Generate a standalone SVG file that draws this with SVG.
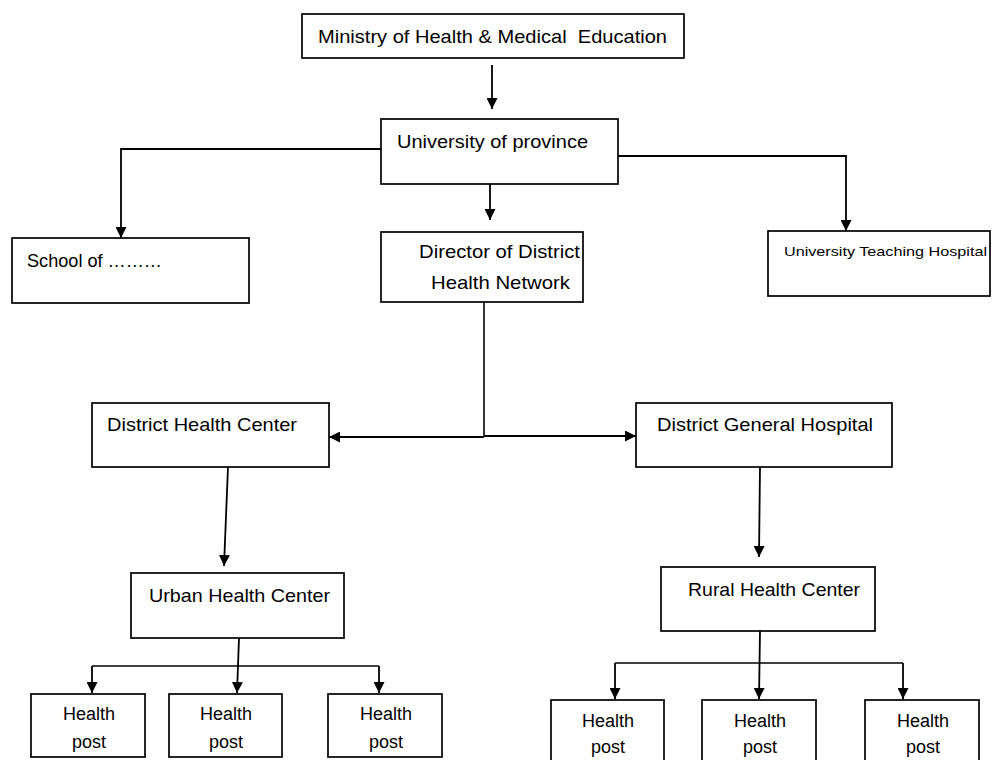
<svg xmlns="http://www.w3.org/2000/svg" width="992" height="760" viewBox="0 0 992 760">
<style>
.box{fill:#fff;stroke:#000;stroke-width:1.7}
.t{font-family:"Liberation Sans",Arial,sans-serif;font-size:19px;fill:#000;white-space:pre}
.th{font-family:"Liberation Sans",Arial,sans-serif;font-size:18px;fill:#000}
.ts{font-family:"Liberation Sans",Arial,sans-serif;font-size:13.5px;fill:#000}
.c{fill:none;stroke:#000;stroke-width:1.6}
.a{fill:none;stroke:#000;stroke-width:1.8;marker-end:url(#ah)}
</style>
<defs>
<marker id="ah" markerUnits="userSpaceOnUse" markerWidth="11" markerHeight="11" refX="11" refY="5.5" orient="auto" viewBox="0 0 11 11">
<path d="M0,0 L11,5.5 L0,11 z" fill="#000"/>
</marker>
</defs>
<rect width="992" height="760" fill="#fff"/>
<g id="connectors">
<path class="a" d="M492,65 L492,109"/>
<path class="a" d="M381,149 L121,149 L121,238"/>
<path class="a" d="M618,156 L846,156 L846,231"/>
<path class="a" d="M490,184 L490,220"/>
<path class="c" d="M484,302 L484,437"/>
<path class="a" d="M484,437 L329,437"/>
<path class="a" d="M484,436 L636,436"/>
<path class="a" d="M228,467 L224,566"/>
<path class="a" d="M239,638 L237,693"/>
<path class="c" d="M92,666 L379,666"/>
<path class="a" d="M92,666 L92,693"/>
<path class="a" d="M379,666 L379,693"/>
<path class="a" d="M760,467 L759,557"/>
<path class="a" d="M760,631 L759,699"/>
<path class="c" d="M615,663 L903,663"/>
<path class="a" d="M615,663 L615,699"/>
<path class="a" d="M903,663 L903,699"/>
</g>
<g id="ministry"><rect class="box" x="302" y="14" width="382" height="44"/><text class="t" x="318" y="43" textLength="349" lengthAdjust="spacingAndGlyphs">Ministry of Health &amp; Medical  Education</text></g>
<g id="university"><rect class="box" x="381" y="119" width="237" height="65"/><text class="t" x="397" y="148" textLength="191" lengthAdjust="spacingAndGlyphs">University of province</text></g>
<g id="school"><rect class="box" x="12" y="238" width="237" height="65"/><text class="t" x="27" y="267" textLength="135" lengthAdjust="spacingAndGlyphs">School of ………</text></g>
<g id="director"><rect class="box" x="381" y="232" width="202" height="70"/><text class="t" x="419" y="258" textLength="161" lengthAdjust="spacingAndGlyphs">Director of District</text><text class="t" x="431" y="289" textLength="139" lengthAdjust="spacingAndGlyphs">Health Network</text></g>
<g id="uth"><rect class="box" x="768" y="231" width="222" height="65"/><text class="ts" x="784" y="256" textLength="203" lengthAdjust="spacingAndGlyphs">University Teaching Hospital</text></g>
<g id="dhc"><rect class="box" x="92" y="403" width="237" height="64"/><text class="t" x="107" y="431" textLength="190" lengthAdjust="spacingAndGlyphs">District Health Center</text></g>
<g id="dgh"><rect class="box" x="636" y="403" width="256" height="64"/><text class="t" x="657" y="431" textLength="216" lengthAdjust="spacingAndGlyphs">District General Hospital</text></g>
<g id="urban"><rect class="box" x="131" y="573" width="213" height="65"/><text class="t" x="149" y="602" textLength="181" lengthAdjust="spacingAndGlyphs">Urban Health Center</text></g>
<g id="rural"><rect class="box" x="661" y="567" width="214" height="64"/><text class="t" x="688" y="596" textLength="172" lengthAdjust="spacingAndGlyphs">Rural Health Center</text></g>
<g id="hp1"><rect class="box" x="31" y="694" width="114" height="63"/><text class="th" x="89" y="720" text-anchor="middle">Health</text><text class="th" x="89" y="748" text-anchor="middle">post</text></g>
<g id="hp2"><rect class="box" x="169" y="694" width="113" height="63"/><text class="th" x="226" y="720" text-anchor="middle">Health</text><text class="th" x="226" y="748" text-anchor="middle">post</text></g>
<g id="hp3"><rect class="box" x="328" y="694" width="114" height="63"/><text class="th" x="386" y="720" text-anchor="middle">Health</text><text class="th" x="386" y="748" text-anchor="middle">post</text></g>
<g id="hp4"><rect class="box" x="551" y="700" width="113" height="64"/><text class="th" x="608" y="727" text-anchor="middle">Health</text><text class="th" x="608" y="753" text-anchor="middle">post</text></g>
<g id="hp5"><rect class="box" x="702" y="700" width="114" height="64"/><text class="th" x="760" y="727" text-anchor="middle">Health</text><text class="th" x="760" y="753" text-anchor="middle">post</text></g>
<g id="hp6"><rect class="box" x="865" y="700" width="114" height="64"/><text class="th" x="923" y="727" text-anchor="middle">Health</text><text class="th" x="923" y="753" text-anchor="middle">post</text></g>
</svg>
